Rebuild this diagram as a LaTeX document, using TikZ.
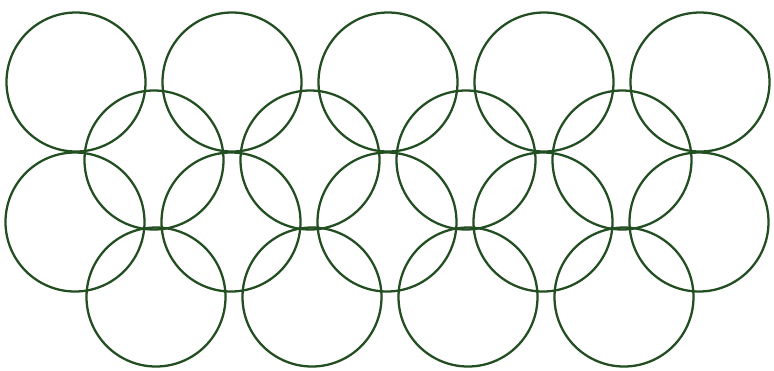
\documentclass[tikz,border=0pt]{standalone}
\usepackage{tikz}
\definecolor{ringgreen}{RGB}{34,78,34}

\begin{document}
\begin{tikzpicture}[x=0.02cm,y=-0.02cm]
\tikzset{ring/.style={draw=ringgreen,line width=1.3pt}}
\useasboundingbox (0,0) rectangle (774,370);
% outer rows of five rings
\foreach \cx in {76,232,388,544,700} \draw[ring] (\cx,82) circle[radius=69.5];
\foreach \cx in {75,231,387,543,699} \draw[ring] (\cx,222) circle[radius=69.5];
% inner rows of four rings
\foreach \cx in {154,310,466,622} \draw[ring] (\cx,160) circle[radius=69.5];
\foreach \cx in {156,312,468,624} \draw[ring] (\cx,297) circle[radius=69.5];
\end{tikzpicture}
\end{document}
